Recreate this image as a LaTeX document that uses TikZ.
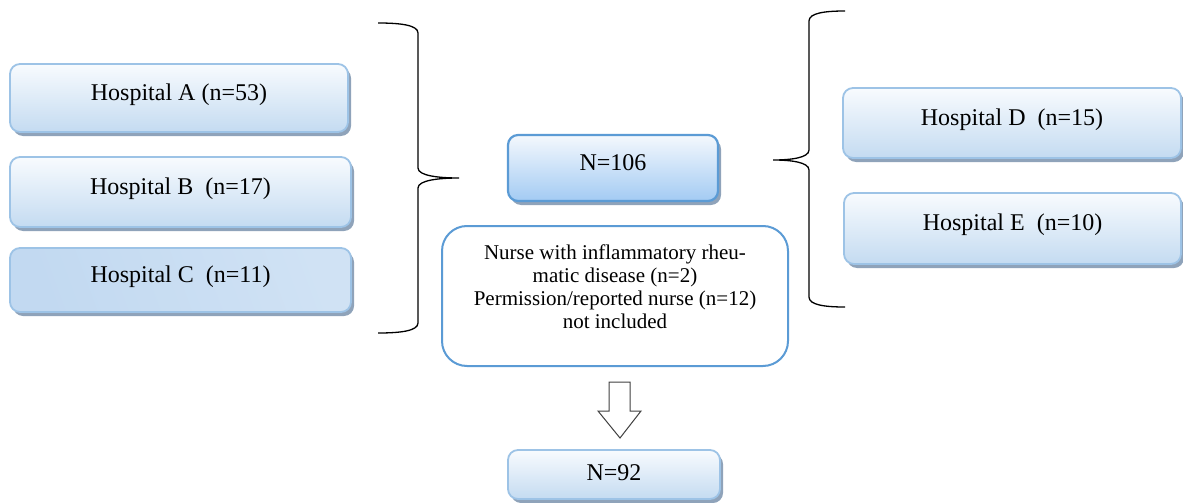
\documentclass[tikz,border=0pt]{standalone}
\usepackage{fontspec}
\setmainfont{Liberation Serif}
\definecolor{hospborder}{HTML}{9DC3E6}
\definecolor{hosptop}{HTML}{F8FBFE}
\definecolor{hospbot}{HTML}{C4DBF1}
\definecolor{hospC1}{HTML}{C2D9F1}
\definecolor{hospC2}{HTML}{EEF4FB}
\definecolor{hospC3}{HTML}{D0E2F4}
\definecolor{shadowc}{HTML}{8FA3BA}
\definecolor{nborder}{HTML}{5B9BD5}
\definecolor{ntop}{HTML}{F4F8FD}
\definecolor{nbot}{HTML}{A3CBF3}
\begin{document}
\begin{tikzpicture}[x=1pt,y=-1pt,
  hosp/.style={draw=hospborder, line width=1.8pt, rounded corners=10pt, inner sep=0pt,
    top color=hosptop, bottom color=hospbot,
    preaction={fill=shadowc, transform canvas={xshift=3pt,yshift=-4pt}},
    font=\fontsize{24}{28}\selectfont, text height=14pt, text depth=10pt},
  nbox/.style={hosp, draw=nborder, line width=2.2pt, top color=ntop, bottom color=nbot},
  excl/.style={draw=nborder, line width=2pt, rounded corners=25pt, fill=white, inner sep=0pt},
  brace/.style={draw=black, line width=1.3pt},
  blockarrow/.style={draw=black!75, line width=1pt, fill=white}
]
\useasboundingbox (0,0) rectangle (1183,503);

% left hospitals
\node[hosp, minimum width=338pt, minimum height=68pt] (A) at (179,98) {Hospital A (n=53)};
\node[hosp, minimum width=341pt, minimum height=70pt] (B) at (180.5,192) {Hospital B~~(n=17)};
\node[hosp, minimum width=341pt, minimum height=64pt, left color=hospC1, middle color=hospC2, right color=hospC3, shading angle=110] (C) at (180.5,280) {Hospital C~~(n=11)};

% right hospitals
\node[hosp, minimum width=338pt, minimum height=70pt] (D) at (1012,123) {Hospital D~~(n=15)};
\node[hosp, minimum width=337pt, minimum height=71pt] (E) at (1012.5,228.5) {Hospital E~~(n=10)};

% center
\node[nbox, minimum width=210pt, minimum height=66pt] (N1) at (613,168) {N=106};
\node[excl, minimum width=346pt, minimum height=140pt] (X) at (615,296)
  {\fontsize{21}{23}\selectfont\raisebox{7pt}[\height][\depth]{\begin{tabular}{@{}c@{}}Nurse with inflammatory rheu-\\matic disease (n=2)\\Permission/reported nurse (n=12)\\not included\end{tabular}}};
\node[hosp, minimum width=212pt, minimum height=49pt, text height=16pt, text depth=4pt] (N2) at (614,474.5) {N=92};

% braces
\coordinate (Ltip) at (459,178);
\coordinate (Rtip) at (773,160);
\draw[brace] (378,23) .. controls (400,23) and (418,25) .. (418,33) -- (418,168)
  .. controls (418,176) and (440,178) .. (Ltip)
  .. controls (440,178) and (418,180) .. (418,188) -- (418,323)
  .. controls (418,331) and (400,333) .. (378,333);
\draw[brace] (845,11) .. controls (825,11) and (809,13) .. (809,21) -- (809,150)
  .. controls (809,158) and (790,160) .. (Rtip)
  .. controls (790,160) and (809,162) .. (809,170) -- (809,297)
  .. controls (809,305) and (825,307) .. (845,307);

% block arrow
\draw[blockarrow] (609,382) -- (630,382) -- (630,411) -- (641,411) -- (620,438) -- (598,411) -- (609,411) -- cycle;
\end{tikzpicture}
\end{document}
